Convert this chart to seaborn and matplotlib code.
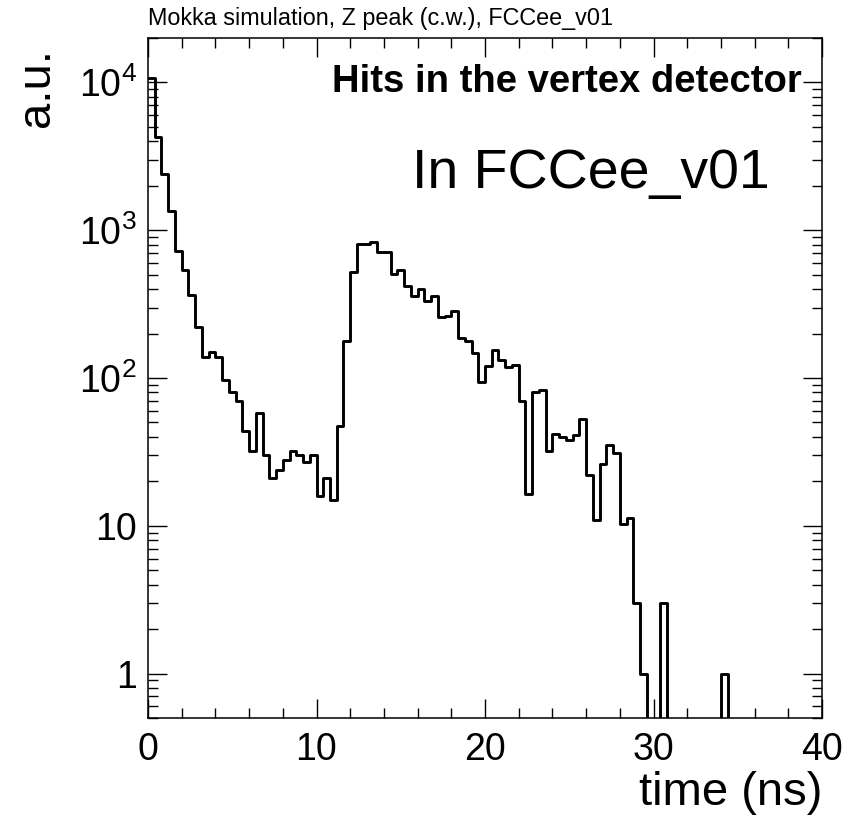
import numpy as np
import pandas as pd
import matplotlib
matplotlib.use("Agg")
import matplotlib.pyplot as plt
import seaborn as sns
from matplotlib.ticker import FixedLocator, FixedFormatter, LogLocator, NullFormatter, MultipleLocator

# ---- data: 100 bins of 0.4 ns from 0 to 40 ns ----
bin_width = 0.4
n_bins = 100
counts = [
    10700, 4300, 2390, 1340, 720, 537, 363, 221, 139, 150,
    139, 97, 80, 70, 44, 32, 58, 30, 21, 24,
    28, 32, 30, 27, 30, 16, 21, 15, 47, 178,
    520, 804, 804, 830, 710, 710, 505, 537, 418, 358,
    400, 332, 358, 258, 262, 283, 186, 178, 147, 94,
    120, 155, 132, 119, 122, 70, 16.4, 80, 83, 32,
    42, 40, 38, 41, 53, 22, 11, 26, 35, 31,
    10.2, 11.3, 3, 1, 0, 0, 3, 0, 0, 0,
    0, 0, 0, 0, 0, 1, 0, 0, 0, 0,
    0, 0, 0, 0, 0, 0, 0, 0, 0, 0,
]
title_text = "Mokka simulation, Z peak (c.w.), FCCee_v01"
y_tick_values = [1, 10, 100, 1000, 10000]
y_tick_labels = ["1", "10", "$10^{2}$", "$10^{3}$", "$10^{4}$"]
x_tick_values = [0, 10, 20, 30, 40]

edges = np.arange(n_bins + 1) * bin_width
vals = np.asarray(counts, dtype=float)
disp = np.where(vals > 0, vals, 1e-3)  # empty bins drawn at the bottom
df = pd.DataFrame({"time": edges, "hits": np.append(disp, disp[-1])})

sns.set_style("ticks")
plt.rcParams["font.family"] = ["Liberation Sans", "DejaVu Sans"]
plt.rcParams["mathtext.default"] = "regular"
plt.rcParams["text.color"] = "black"
plt.rcParams["axes.labelcolor"] = "black"
plt.rcParams["xtick.color"] = "black"
plt.rcParams["ytick.color"] = "black"

fig = plt.figure(figsize=(8.56, 8.22), dpi=100)
ax = fig.add_axes([148 / 856, 1 - 718 / 822, 674 / 856, 680 / 822])

sns.lineplot(data=df, x="time", y="hits", drawstyle="steps-post",
             color="black", linewidth=2.1, ax=ax, estimator=None, sort=False)

ax.set_yscale("log")
ax.set_xlim(0, 40)
ax.set_ylim(0.5, 2e4)

ax.xaxis.set_major_locator(FixedLocator(x_tick_values))
ax.xaxis.set_minor_locator(MultipleLocator(2))
ax.yaxis.set_major_locator(FixedLocator(y_tick_values))
ax.yaxis.set_major_formatter(FixedFormatter(y_tick_labels))
ax.yaxis.set_minor_locator(LogLocator(base=10, subs=np.arange(2, 10)))
ax.yaxis.set_minor_formatter(NullFormatter())

ax.tick_params(which="both", direction="in", top=True, right=True,
               colors="black", labelcolor="black", width=1.0)
ax.tick_params(which="major", length=14, labelsize=27)
ax.tick_params(axis="y", which="major", pad=8)
ax.tick_params(axis="x", which="major", pad=10)
ax.tick_params(which="minor", length=7)
for s in ax.spines.values():
    s.set_linewidth(1.1)
    s.set_color("black")

ax.set_xlabel("")
ax.set_ylabel("")
fig.text(822 / 856, 1 - 815 / 822, "time (ns)", ha="right", va="bottom",
         fontsize=34, color="black")
fig.text(37 / 856, 1 - 48 / 822, "a.u.", rotation=90, ha="center", va="top",
         fontsize=34, color="black")
fig.text(148 / 856, 1 - 18 / 822, title_text, ha="left", va="center",
         fontsize=16.8, color="black")

ax.text(0.97, 0.935, "Hits in the vertex detector", transform=ax.transAxes,
        ha="right", va="center", fontsize=27.5, fontweight="bold", color="black")
ax.text(0.922, 0.80, "In FCCee_v01", transform=ax.transAxes,
        ha="right", va="center", fontsize=40, color="black")

fig.savefig("out.png", dpi=100)
